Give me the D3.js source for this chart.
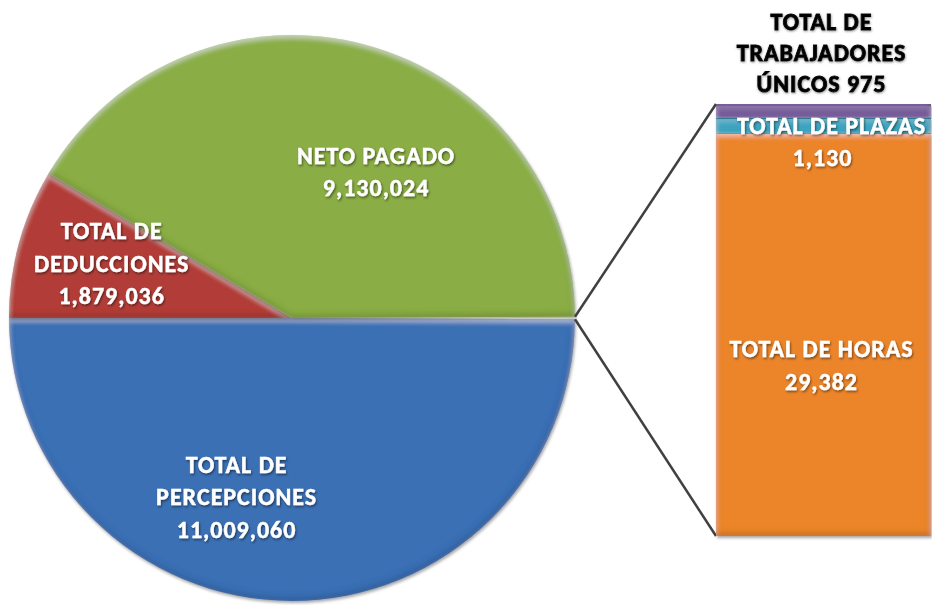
<!DOCTYPE html>
<html>
<head>
<meta charset="utf-8">
<script src="https://cdn.jsdelivr.net/npm/d3@7"></script>
<style>
  body { margin: 0; background: #fff; }
  text { font-family: Calibri, Carlito, Lato, sans-serif; font-weight: bold; letter-spacing: 1px; }
</style>
</head>
<body>
<svg id="chart"></svg>
<script>
// pie data (main pie)
var pieNames = ["TOTAL DE\nPERCEPCIONES", "TOTAL DE\nDEDUCCIONES", "NETO PAGADO"];
var pieValues = [11009060, 1879036, 9130024];
var pieColors = ["#3a70b5", "#b23d39", "#8aad45"];

// bar data (the "other" slice split out), bottom to top
var barNames = ["TOTAL DE HORAS", "TOTAL DE PLAZAS", "TOTAL DE TRABAJADORES ÚNICOS"];
var barValues = [29382, 1130, 975];
var barColors = ["#ec852c", "#3fa6c2", "#7a5e9e"];

var width = 932, height = 605;
var cx = 292, cy = 318, r = 283;
var fmt = d3.format(",");

var svg = d3.select("#chart")
    .attr("width", width)
    .attr("height", height);

var defs = svg.append("defs");

// soft bevel: light inner edge on top, dark inner edge at bottom
function innerShade(f, color, opacity, dx, dy, blur, name) {
    f.append("feFlood").attr("flood-color", color).attr("flood-opacity", opacity).attr("result", name + "c");
    f.append("feComposite").attr("in", name + "c").attr("in2", "SourceAlpha").attr("operator", "out").attr("result", name + "o");
    f.append("feGaussianBlur").attr("in", name + "o").attr("stdDeviation", blur).attr("result", name + "b");
    f.append("feOffset").attr("in", name + "b").attr("dx", dx).attr("dy", dy).attr("result", name + "s");
    f.append("feComposite").attr("in", name + "s").attr("in2", "SourceAlpha").attr("operator", "in").attr("result", name);
}
var bevel = defs.append("filter").attr("id", "bevel")
    .attr("x", "-5%").attr("y", "-5%").attr("width", "110%").attr("height", "110%");
bevel.append("feDropShadow").attr("in", "SourceGraphic").attr("dx", 1).attr("dy", 2).attr("stdDeviation", 1.5)
    .attr("flood-color", "#000").attr("flood-opacity", 0.35).attr("result", "base");
innerShade(bevel, "#ffffff", 0.45, 0, 3, 2.5, "hi");
innerShade(bevel, "#000000", 0.35, -1, -3, 3, "lo");
var merge = bevel.append("feMerge");
merge.append("feMergeNode").attr("in", "base");
merge.append("feMergeNode").attr("in", "hi");
merge.append("feMergeNode").attr("in", "lo");

// text shadow
var tshadow = defs.append("filter").attr("id", "tshadow")
    .attr("x", "-10%").attr("y", "-20%").attr("width", "120%").attr("height", "140%");
tshadow.append("feDropShadow").attr("dx", 1).attr("dy", 1.5).attr("stdDeviation", 1)
    .attr("flood-color", "#000").attr("flood-opacity", 0.5);

var glow = defs.append("filter").attr("id", "glow")
    .attr("x", "-10%").attr("y", "-20%").attr("width", "120%").attr("height", "140%");
glow.append("feDropShadow").attr("dx", 0.5).attr("dy", 1).attr("stdDeviation", 1.2)
    .attr("flood-color", "#666").attr("flood-opacity", 0.7);

// pie layout: the "other" slice is centred on the right, then the rest clockwise
var otherTotal = d3.sum(barValues);
var allValues = [otherTotal].concat(pieValues);
var otherAngle = otherTotal / d3.sum(allValues) * 2 * Math.PI;
var start = Math.PI / 2 - otherAngle / 2;

var pie = d3.pie().sort(null).value(function(d) { return d; })
    .startAngle(start).endAngle(start + 2 * Math.PI);
var arcs = pie(allValues);

var arc = d3.arc().innerRadius(0).outerRadius(r);

var g = svg.append("g").attr("transform", "translate(" + cx + "," + cy + ")");

g.selectAll("path.slice")
    .data(arcs.slice(1))
    .enter()
    .append("path")
    .attr("class", "slice")
    .attr("d", arc)
    .style("fill", function(d, i) { return pieColors[i]; })
    .attr("filter", "url(#bevel)");

// labels: centroid at label radius plus best-fit nudges
var labelArc = d3.arc().innerRadius(187 * 2).outerRadius(0);
var nudges = [[-55, -8], [0, -5], [35, 34]];
g.selectAll("text.plabel")
    .data(arcs.slice(1))
    .enter()
    .append("text")
    .attr("class", "plabel")
    .attr("text-anchor", "middle")
    .attr("font-size", 24)
    .style("fill", "#fff")
    .style("stroke", "#fff").style("stroke-width", 0.4)
    .attr("filter", "url(#tshadow)")
    .each(function(d, i) {
        var c = labelArc.centroid(d);
        var lines = pieNames[i].split("\n").concat([fmt(pieValues[i])]);
        var x = c[0] + nudges[i][0], y = c[1] + nudges[i][1];
        var t = d3.select(this);
        lines.forEach(function(l, j) {
            t.append("tspan")
                .attr("x", x)
                .attr("y", y + (j - (lines.length - 1) / 2) * 32.5)
                .attr("dy", "0.35em")
                .text(l);
        });
    });

// bar (stacked)
var barX0 = 716, barX1 = 931;
var y = d3.scaleLinear().domain([0, otherTotal]).range([536, 104]);
var stack = d3.cumsum(barValues);

// connector lines from the other slice to the bar
var other = arcs[0];
var p0 = [cx + r * Math.sin(other.startAngle), cy - r * Math.cos(other.startAngle)];
var p1 = [cx + r * Math.sin(other.endAngle), cy - r * Math.cos(other.endAngle)];
svg.append("line")
    .attr("x1", p0[0]).attr("y1", p0[1])
    .attr("x2", barX0).attr("y2", y(otherTotal))
    .style("stroke", "#404040").style("stroke-width", 2.5);
svg.append("line")
    .attr("x1", p1[0]).attr("y1", p1[1])
    .attr("x2", barX0).attr("y2", y(0))
    .style("stroke", "#404040").style("stroke-width", 2.5);

svg.selectAll("rect.seg")
    .data(barValues)
    .enter()
    .append("rect")
    .attr("class", "seg")
    .attr("x", barX0)
    .attr("width", barX1 - barX0)
    .attr("y", function(d, i) { return y(stack[i]); })
    .attr("height", function(d, i) { return y(stack[i] - d) - y(stack[i]); })
    .style("fill", function(d, i) { return barColors[i]; })
    .attr("filter", "url(#bevel)");

// bar labels
var bx = (barX0 + barX1) / 2 - 2;
var horas = svg.append("text").attr("text-anchor", "middle").attr("font-size", 24)
    .style("fill", "#fff").style("stroke", "#fff").style("stroke-width", 0.4)
    .attr("filter", "url(#tshadow)");
[barNames[0], fmt(barValues[0])].forEach(function(l, j) {
    horas.append("tspan").attr("x", bx).attr("y", (y(0) + y(stack[0])) / 2 + 14 + j * 33)
        .attr("dy", "0.35em").text(l);
});

var plazas = svg.append("text").attr("text-anchor", "middle").attr("font-size", 24)
    .style("fill", "#fff").style("stroke", "#fff").style("stroke-width", 0.4)
    .attr("filter", "url(#tshadow)");
[barNames[1], fmt(barValues[1])].forEach(function(l, j) {
    plazas.append("tspan").attr("x", bx + (j === 0 ? 10 : 1)).attr("y", (y(stack[0]) + y(stack[1])) / 2 + j * 32)
        .attr("dy", "0.35em").text(l);
});

var trab = svg.append("text").attr("text-anchor", "middle").attr("font-size", 24)
    .style("fill", "#000").style("font-weight", 900)
    .style("stroke", "#000").style("stroke-width", 0.9)
    .attr("filter", "url(#glow)");
["TOTAL DE", "TRABAJADORES", "ÚNICOS " + fmt(barValues[2])].forEach(function(l, j) {
    trab.append("tspan").attr("x", bx).attr("y", y(otherTotal) - 82 + j * 31)
        .attr("dy", "0.35em").text(l);
});
</script>
</body>
</html>
